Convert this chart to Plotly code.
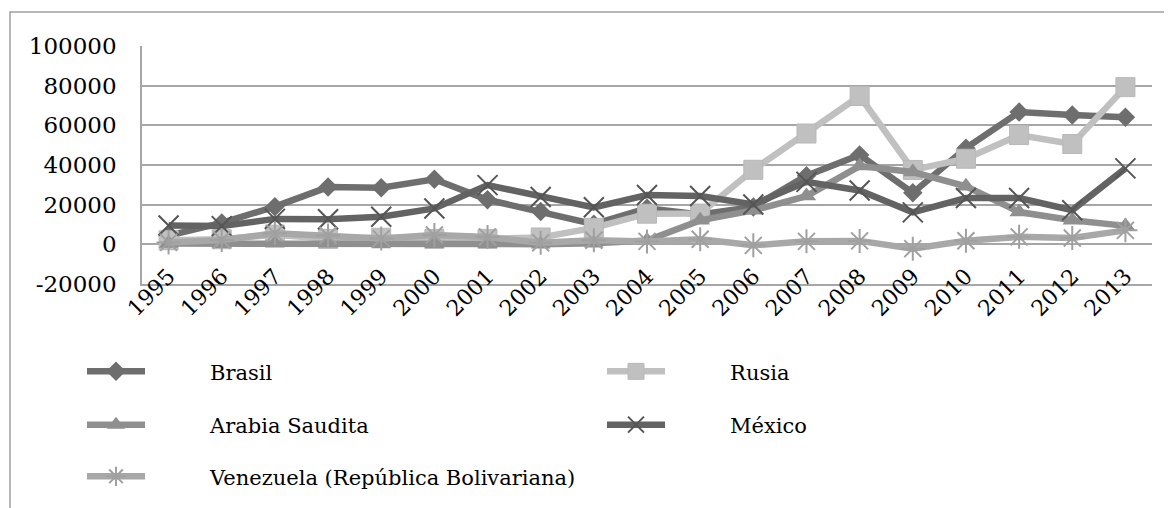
import plotly.graph_objects as go

years = [str(y) for y in range(1995, 2014)]
brasil = [4405, 10792, 18993, 28856, 28578, 32779, 22457, 16590, 10144, 18146,
          15066, 18822, 34585, 45058, 25949, 48506, 66660, 65272, 64045]
rusia = [2065, 2579, 4865, 2761, 3309, 2714, 2748, 3461, 8300, 15444,
         15508, 37595, 55874, 74783, 37500, 43168, 55084, 50588, 79262]
arabia = [400, 300, 600, 500, 200, 300, 300, 100, 500, 1900,
          12097, 17140, 24318, 39456, 36458, 29233, 16308, 12182, 9298]
mexico = [9526, 9186, 12830, 12635, 13940, 18110, 29859, 23883, 18655, 24867,
          24407, 20119, 31492, 27140, 16119, 23353, 23376, 17224, 38286]
venezuela = [985, 2183, 5536, 4495, 2890, 4701, 3683, 782, 2040, 1483,
             2589, -508, 1505, 1741, -2169, 1849, 3778, 3216, 7040]

names = ["Brasil", "Rusia", "Arabia Saudita", "México",
         "Venezuela (República Bolivariana)"]
y_ticks = [-20000, 0, 20000, 40000, 60000, 80000, 100000]
y_tick_labels = ["-20000", "0", "20000", "40000", "60000", "80000", "100000"]

FONT = "DejaVu Serif"

# page offset of the figure (body margin) and target geometry in page px
OFF = 8
W, H = 1172, 508
PL, PR, PT, PB = 142, 1152, 46, 284  # plot area edges in page px
L, T = PL - OFF, PT - OFF
R = W - (PR - OFF)
B = H - (PB - OFF)
pw, ph = W - L - R, H - T - B


def px_x(x):
    return (x - OFF - L) / pw


def px_y(y):
    return (H - B - (y - OFF)) / ph


series = [
    (brasil, dict(color="#6e6e6e", width=6.5),
     dict(symbol="diamond", size=15, color="#6e6e6e")),
    (rusia, dict(color="#c0c0c0", width=6.5),
     dict(symbol="square", size=19, color="#c0c0c0",
          line=dict(color="#b8b8b8", width=1))),
    (arabia, dict(color="#8f8f8f", width=6.5),
     dict(symbol="triangle-up", size=17, color="#8f8f8f")),
    (mexico, dict(color="#636363", width=6.5),
     dict(symbol="x-thin", size=20, color="#555555",
          line=dict(color="#555555", width=2))),
    (venezuela, dict(color="#a8a8a8", width=6.5),
     dict(symbol="asterisk", size=20, color="#a0a0a0",
          line=dict(color="#a0a0a0", width=2))),
]

legend_pos = [(88, 371.7), (608, 371.7), (88, 425), (608, 425), (88, 476.7)]
legend_keys = ["legend", "legend2", "legend3", "legend4", "legend5"]
pad = "\u00a0" * 9

fig = go.Figure()
for i, (vals, ln, mk) in enumerate(series):
    fig.add_trace(go.Scatter(
        x=years, y=vals, name=pad + names[i], mode="lines+markers",
        line=ln, marker=mk, legend=legend_keys[i]))

layout_legends = {}
for key, (lx, ly) in zip(legend_keys, legend_pos):
    layout_legends[key] = dict(
        x=px_x(lx - 6), y=px_y(ly), xanchor="left", yanchor="middle",
        orientation="h", itemwidth=58, bgcolor="rgba(0,0,0,0)",
        font=dict(family=FONT, size=21, color="#000000"))

fig.update_layout(
    width=W, height=H,
    margin=dict(l=L, r=R, t=T, b=B, autoexpand=False),
    paper_bgcolor="white", plot_bgcolor="white",
    showlegend=True,
    xaxis=dict(type="category", range=[-0.5, 18.5], tickangle=-45,
               showgrid=False, showline=True, linecolor="#a6a6a6",
               linewidth=1.5, ticks="", ticklabelstandoff=-31,
               tickfont=dict(family=FONT, size=22, color="#000000")),
    yaxis=dict(range=[-20000, 100000], tickmode="array", tickvals=y_ticks,
               ticktext=y_tick_labels, showgrid=True,
               gridcolor="#a6a6a6", gridwidth=1.5, zeroline=False,
               showline=True, linecolor="#a6a6a6", linewidth=1.5,
               ticks="", ticklabelstandoff=19,
               tickfont=dict(family=FONT, size=23, color="#000000")),
    shapes=[dict(type="rect", xref="paper", yref="paper",
                 x0=px_x(10), x1=px_x(1180), y0=px_y(520), y1=px_y(12),
                 line=dict(color="#a0a0a0", width=1.5),
                 fillcolor="rgba(0,0,0,0)", layer="below")],
    **layout_legends,
)

fig.write_html("out.html")
